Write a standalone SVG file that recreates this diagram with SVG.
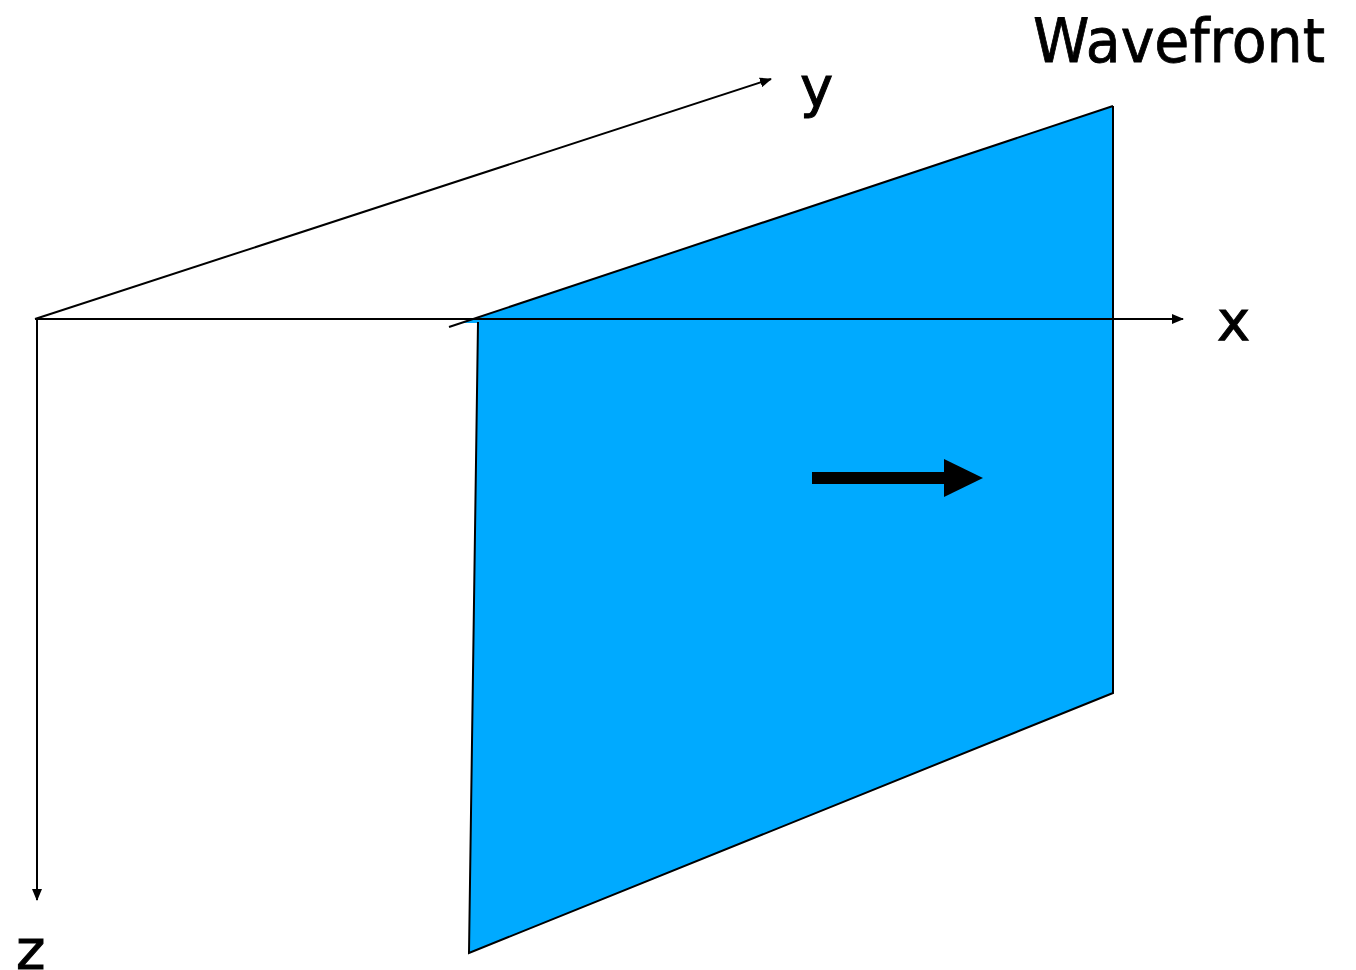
<svg xmlns="http://www.w3.org/2000/svg" width="1356" height="970" viewBox="0 0 1356 970">
<style>
.ax{stroke:#000;stroke-width:2;fill:none}
.lbl{font-family:"Comic Sans MS","DejaVu Sans",sans-serif;fill:#000}
</style>
<defs>
<marker id="ah" markerWidth="12" markerHeight="10" refX="11" refY="5" orient="auto" markerUnits="userSpaceOnUse">
<path d="M0,0 L12,5 L0,10 Z" fill="#000"/>
</marker>
</defs>
<rect width="1356" height="970" fill="#fff"/>
<g id="wavefront">
<polygon points="462,323 1113,106 1113,693 469,953 478,323" fill="#00aaff" stroke="none"/>
<polyline points="478,322 469,953 1113,693 1113,106" class="ax"/>
<line x1="449" y1="327" x2="1113" y2="106" class="ax"/>
</g>
<g id="connectors">
<line x1="35" y1="319" x2="1183" y2="319" class="ax" marker-end="url(#ah)"/>
<line x1="35" y1="319" x2="771" y2="79" class="ax" marker-end="url(#ah)"/>
<line x1="37" y1="319" x2="37" y2="900" class="ax" marker-end="url(#ah)"/>
</g>
<g id="propagation">
<rect x="812" y="472" width="134" height="12" fill="#000"/>
<polygon points="944,459 983,478 944,497" fill="#000"/>
</g>
<g id="labels">
<text class="lbl" x="1033" y="62" font-size="60" textLength="292" lengthAdjust="spacingAndGlyphs" stroke="#000" stroke-width="0.8">Wavefront</text>
<text class="lbl" x="1217" y="340" font-size="56" stroke="#000" stroke-width="1">x</text>
<text class="lbl" x="800" y="106" font-size="56" stroke="#000" stroke-width="1">y</text>
<text class="lbl" x="16" y="969" font-size="56" stroke="#000" stroke-width="1">z</text>
</g>
</svg>
